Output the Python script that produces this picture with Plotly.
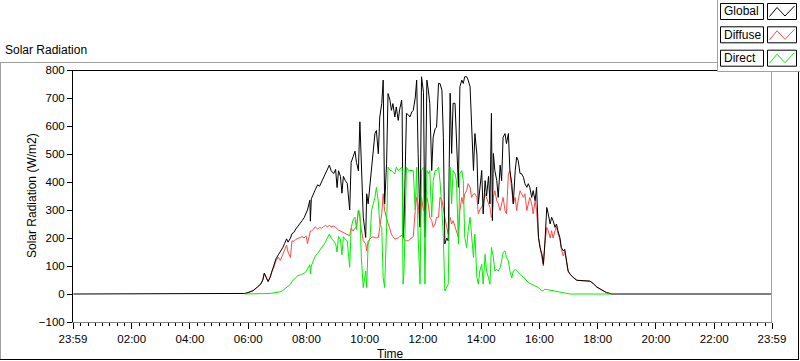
import plotly.graph_objects as go

# ---------------- data ----------------
times = ["00:00", "05:45", "05:53", "06:00", "06:10", "06:19", "06:26", "06:30", "06:33", "06:37",
         "06:41", "06:45", "06:49", "06:53", "06:57", "07:02", "07:06", "07:11", "07:15", "07:19",
         "07:22", "07:27", "07:30", "07:34", "07:38", "07:42", "07:47", "07:51", "07:55", "07:59",
         "08:02", "08:07", "08:08", "08:10", "08:14", "08:18", "08:23", "08:27", "08:31", "08:35",
         "08:39", "08:43", "08:47", "08:51", "08:56", "09:00", "09:03", "09:06", "09:10", "09:13",
         "09:16", "09:20", "09:24", "09:29", "09:32", "09:36", "09:40", "09:43", "09:47", "09:50",
         "09:53", "09:57", "10:02", "10:04", "10:07", "10:11", "10:14", "10:17", "10:21", "10:24",
         "10:28", "10:31", "10:35", "10:38", "10:41", "10:45", "10:48", "10:52", "10:55", "10:58",
         "11:02", "11:05", "11:09", "11:12", "11:16", "11:17", "11:18", "11:19", "11:21", "11:24",
         "11:26", "11:30", "11:33", "11:37", "11:40", "11:44", "11:47", "11:50", "11:54", "11:57",
         "12:01", "12:04", "12:08", "12:11", "12:14", "12:18", "12:21", "12:25", "12:28", "12:32",
         "12:35", "12:39", "12:42", "12:45", "12:49", "12:52", "12:56", "12:59", "13:02", "13:06",
         "13:09", "13:13", "13:16", "13:20", "13:23", "13:26", "13:30", "13:33", "13:37", "13:40",
         "13:44", "13:47", "13:51", "13:54", "13:57", "14:01", "14:04", "14:08", "14:11", "14:15",
         "14:18", "14:21", "14:23", "14:25", "14:28", "14:32", "14:35", "14:39", "14:42", "14:45",
         "14:49", "14:52", "14:56", "14:59", "15:03", "15:06", "15:10", "15:13", "15:16", "15:20",
         "15:23", "15:27", "15:30", "15:34", "15:37", "15:40", "15:44", "15:47", "15:51", "15:54",
         "15:58", "16:01", "16:05", "16:08", "16:11", "16:15", "16:18", "16:22", "16:25", "16:28",
         "16:32", "16:35", "16:38", "16:42", "16:45", "16:49", "16:52", "16:56", "16:59", "17:03",
         "17:10", "17:17", "17:30", "17:44", "17:51", "17:58", "18:05", "18:11", "18:18", "18:29",
         "18:30", "23:59"]

global_rad = [0, 0, 2, 5, 12, 25, 36, 50, 75, 60,
              45, 60, 85, 100, 125, 140, 150, 165, 180, 197,
              185, 200, 215, 220, 232, 240, 250, 262, 272, 290,
              300, 335, 260, 340, 360, 372, 390, 385, 400, 415,
              430, 445, 460, 440, 430, 445, 380, 440, 420, 360,
              420, 405, 395, 300, 470, 490, 510, 470, 440, 615,
              441, 274, 202, 358, 322, 400, 453, 520, 573, 584,
              501, 632, 680, 764, 322, 466, 716, 692, 656, 680,
              632, 668, 620, 660, 692, 660, 450, 202, 250, 500,
              645, 640, 632, 650, 656, 700, 764, 502, 240, 776,
              720, 202, 764, 728, 681, 441, 560, 590, 596, 752,
              752, 728, 560, 179, 200, 190, 717, 502, 681, 681,
              520, 381, 740, 764, 752, 776, 776, 764, 740, 584,
              441, 573, 500, 322, 380, 441, 286, 405, 350, 420,
              322, 645, 262, 502, 441, 405, 345, 460, 405, 560,
              573, 537, 573, 441, 394, 322, 441, 489, 477, 430,
              430, 417, 394, 381, 394, 381, 345, 369, 333, 381,
              202, 166, 142, 106, 179, 309, 286, 250, 274, 262,
              238, 250, 226, 202, 166, 154, 160, 106, 82, 71,
              58, 49, 47, 46, 37, 25, 18, 11, 5, 0,
              0, 0]

diffuse_rad = [None, None, 2, 5, 12, 25, 36, 50, 72, 58,
               44, 58, 82, 96, 118, 132, 120, 140, 155, 175,
               150, 130, 190, 188, 195, 198, 200, 205, 200, 208,
               180, 215, 225, 225, 230, 240, 232, 238, 235, 240,
               245, 240, 245, 240, 242, 238, 232, 228, 225, 222,
               218, 214, 210, 208, 235, 225, 235, 240, 298, 275,
               230, 190, 179, 154, 190, 198, 202, 204, 202, 200,
               202, 240, 286, 358, 298, 270, 250, 230, 214, 205,
               196, 198, 200, 205, 210, 210, 205, 202, 195, 190,
               190, 190, 195, 202, 205, 298, 345, 322, 238, 345,
               298, 300, 345, 320, 274, 262, 238, 250, 274, 274,
               345, 335, 298, 274, 238, 214, 274, 250, 262, 238,
               226, 202, 298, 345, 322, 357, 369, 394, 381, 345,
               357, 358, 345, 286, 300, 309, 320, 358, 345, 322,
               309, 274, 280, 345, 369, 333, 322, 298, 322, 345,
               298, 286, 429, 441, 369, 322, 345, 298, 333, 369,
               358, 345, 358, 298, 322, 345, 322, 286, 333, 298,
               202, 166, 130, 100, 179, 238, 226, 200, 226, 200,
               226, 240, 215, 196, 160, 136, 155, 104, 81, 70,
               58, 49, 47, 46, 37, 25, 18, 11, 5, 0,
               None, None]

direct_rad = [None, None, 0, 0, 0, 0, 0, 0, 0, 0,
              1, 2, 3, 4, 5, 6, 8, 12, 18, 22,
              28, 35, 45, 53, 60, 65, 68, 70, 74, 80,
              88, 105, 72, 100, 118, 135, 145, 155, 165, 178,
              185, 200, 214, 200, 190, 180, 150, 205, 195, 140,
              205, 195, 190, 95, 235, 265, 275, 230, 300, 290,
              130, 23, 82, 23, 178, 202, 298, 320, 345, 381,
              330, 250, 238, 58, 23, 238, 453, 441, 441, 435,
              429, 453, 441, 445, 453, 450, 200, 35, 82, 300,
              453, 441, 441, 441, 441, 300, 453, 202, 35, 441,
              453, 35, 441, 430, 441, 274, 405, 441, 441, 453,
              405, 298, 202, 11, 23, 35, 453, 322, 441, 430,
              405, 178, 430, 441, 405, 202, 166, 226, 274, 202,
              130, 214, 60, 35, 82, 106, 35, 142, 82, 58,
              35, 166, 150, 130, 82, 88, 82, 94, 118, 148,
              154, 130, 118, 82, 58, 82, 88, 82, 80, 72,
              65, 60, 53, 48, 41, 38, 35, 32, 29, 26,
              23, 17, 11, 12, 17, 16, 15, 13, 12, 11,
              10, 9, 7, 5, 4, 3, 2, 1, 0, 0,
              0, 0, 0, 0, 0, 0, 0, 0, 0, 0,
              None, None]

series_names = ["Global", "Diffuse", "Direct"]
series_colors = ["#000000", "#ff4848", "#00f000"]

tick_minutes = [-1, 120, 240, 360, 480, 600, 720, 840, 960, 1080, 1200, 1320, 1439]
tick_labels = ["23:59", "02:00", "04:00", "06:00", "08:00", "10:00", "12:00",
               "14:00", "16:00", "18:00", "20:00", "22:00", "23:59"]

# ---------------- build ----------------
def to_min(s):
    h, m = s.split(":")
    return int(h) * 60 + int(m)

x_min = [to_min(t) for t in times]

W, H = 800, 361
L, R, T, B = 73, 772, 70, 322

def px(x):
    return (x - L) / (R - L)

def py(y):
    return (B - y) / (B - T)

FONT = "Liberation Sans, Arial, sans-serif"

fig = go.Figure()
# draw order: Diffuse, Global, Direct
order = [1, 0, 2]
data = [global_rad, diffuse_rad, direct_rad]
for i in order:
    fig.add_trace(go.Scatter(x=x_min, y=data[i], mode="lines", name=series_names[i],
                             line=dict(color=series_colors[i], width=1),
                             connectgaps=False, showlegend=False, hoverinfo="skip"))

shapes = []
# outer panel frame
shapes.append(dict(type="line", xref="paper", yref="paper", x0=px(0), x1=px(717.5), y0=py(62.5), y1=py(62.5),
                   line=dict(color="#a0a0a0", width=1)))
shapes.append(dict(type="line", xref="paper", yref="paper", x0=px(0.5), x1=px(0.5), y0=py(62), y1=py(360),
                   line=dict(color="#a0a0a0", width=1)))
shapes.append(dict(type="line", xref="paper", yref="paper", x0=px(0), x1=px(799), y0=py(359.5), y1=py(359.5),
                   line=dict(color="#000000", width=1)))
shapes.append(dict(type="line", xref="paper", yref="paper", x0=px(798.5), x1=px(798.5), y0=py(72), y1=py(360),
                   line=dict(color="#000000", width=1)))
# plot area border (top black, right gray)
shapes.append(dict(type="line", xref="paper", yref="paper", x0=px(73), x1=px(772), y0=py(70.5), y1=py(70.5),
                   line=dict(color="#000000", width=1)))
shapes.append(dict(type="line", xref="paper", yref="paper", x0=px(771.5), x1=px(771.5), y0=py(70), y1=py(322),
                   line=dict(color="#a0a0a0", width=1)))
# legend panel
shapes.append(dict(type="rect", xref="paper", yref="paper", x0=px(717.5), x1=px(803), y0=py(-3), y1=py(71.5),
                   line=dict(color="#a0a0a0", width=1), fillcolor="#ffffff", layer="above"))

annotations = []
row_off = [0, 23.3, 46.7]
for k in range(3):
    o = row_off[k]
    shapes.append(dict(type="rect", xref="paper", yref="paper", x0=px(720.5), x1=px(763.5),
                       y0=py(3.5 + o), y1=py(19.5 + o), line=dict(color="#000000", width=1),
                       fillcolor="#ffffff", layer="above"))
    shapes.append(dict(type="rect", xref="paper", yref="paper", x0=px(767.5), x1=px(796.5),
                       y0=py(3.5 + o), y1=py(19.5 + o), line=dict(color="#000000", width=1),
                       fillcolor="#ffffff", layer="above"))
    path = "M {} {} L {} {} L {} {} L {} {}".format(
        px(769.5), py(16.5 + o), px(777), py(7.5 + o), px(785), py(16 + o), px(794.5), py(6 + o))
    shapes.append(dict(type="path", xref="paper", yref="paper", path=path,
                       line=dict(color=series_colors[k], width=1), layer="above"))
    annotations.append(dict(text=series_names[k], xref="paper", yref="paper", x=px(722), y=py(11.5 + o),
                            xanchor="left", yanchor="middle", showarrow=False,
                            font=dict(family=FONT, size=12, color="#000000")))

annotations.append(dict(text="Solar Radiation", xref="paper", yref="paper", x=px(3), y=py(50),
                        xanchor="left", yanchor="middle", showarrow=False,
                        font=dict(family=FONT, size=12, color="#000000")))
annotations.append(dict(text="Solar Radiation (W/m2)", xref="paper", yref="paper", x=px(32), y=py(196),
                        xanchor="center", yanchor="middle", textangle=-90, showarrow=False,
                        font=dict(family=FONT, size=12, color="#000000")))
annotations.append(dict(text="Time", xref="paper", yref="paper", x=px(390), y=py(354),
                        xanchor="center", yanchor="middle", showarrow=False,
                        font=dict(family=FONT, size=12, color="#000000")))

fig.update_layout(
    width=W, height=H,
    margin=dict(l=L, r=W - R, t=T, b=H - B, pad=0),
    paper_bgcolor="#ffffff", plot_bgcolor="#ffffff",
    font=dict(family=FONT, size=11, color="#000000"),
    shapes=shapes, annotations=annotations,
    showlegend=False,
)
fig.update_xaxes(range=[-1, 1439], tickmode="array", tickvals=tick_minutes, ticktext=tick_labels,
                 ticks="outside", ticklen=6, tickwidth=1, tickcolor="#000000",
                 showline=True, linecolor="#808080", linewidth=1, showgrid=False, zeroline=False,
                 tickfont=dict(family=FONT, size=11.5, color="#000000"),
                 minor=dict(tick0=0, dtick=15, ticks="outside", ticklen=3, tickcolor="#000000",
                            tickwidth=1, showgrid=False))
fig.update_yaxes(range=[-100, 800], tickmode="linear", tick0=-100, dtick=100,
                 ticks="outside", ticklen=5, tickwidth=1, tickcolor="#000000",
                 showline=True, linecolor="#000000", linewidth=1, showgrid=False, zeroline=False,
                 tickfont=dict(family=FONT, size=11.5, color="#000000"))

fig.write_html("out.html", config={"displayModeBar": False, "staticPlot": True},
               post_script="document.body.style.margin='0px';document.body.style.padding='0px';"
                           "document.body.style.overflow='hidden';")
